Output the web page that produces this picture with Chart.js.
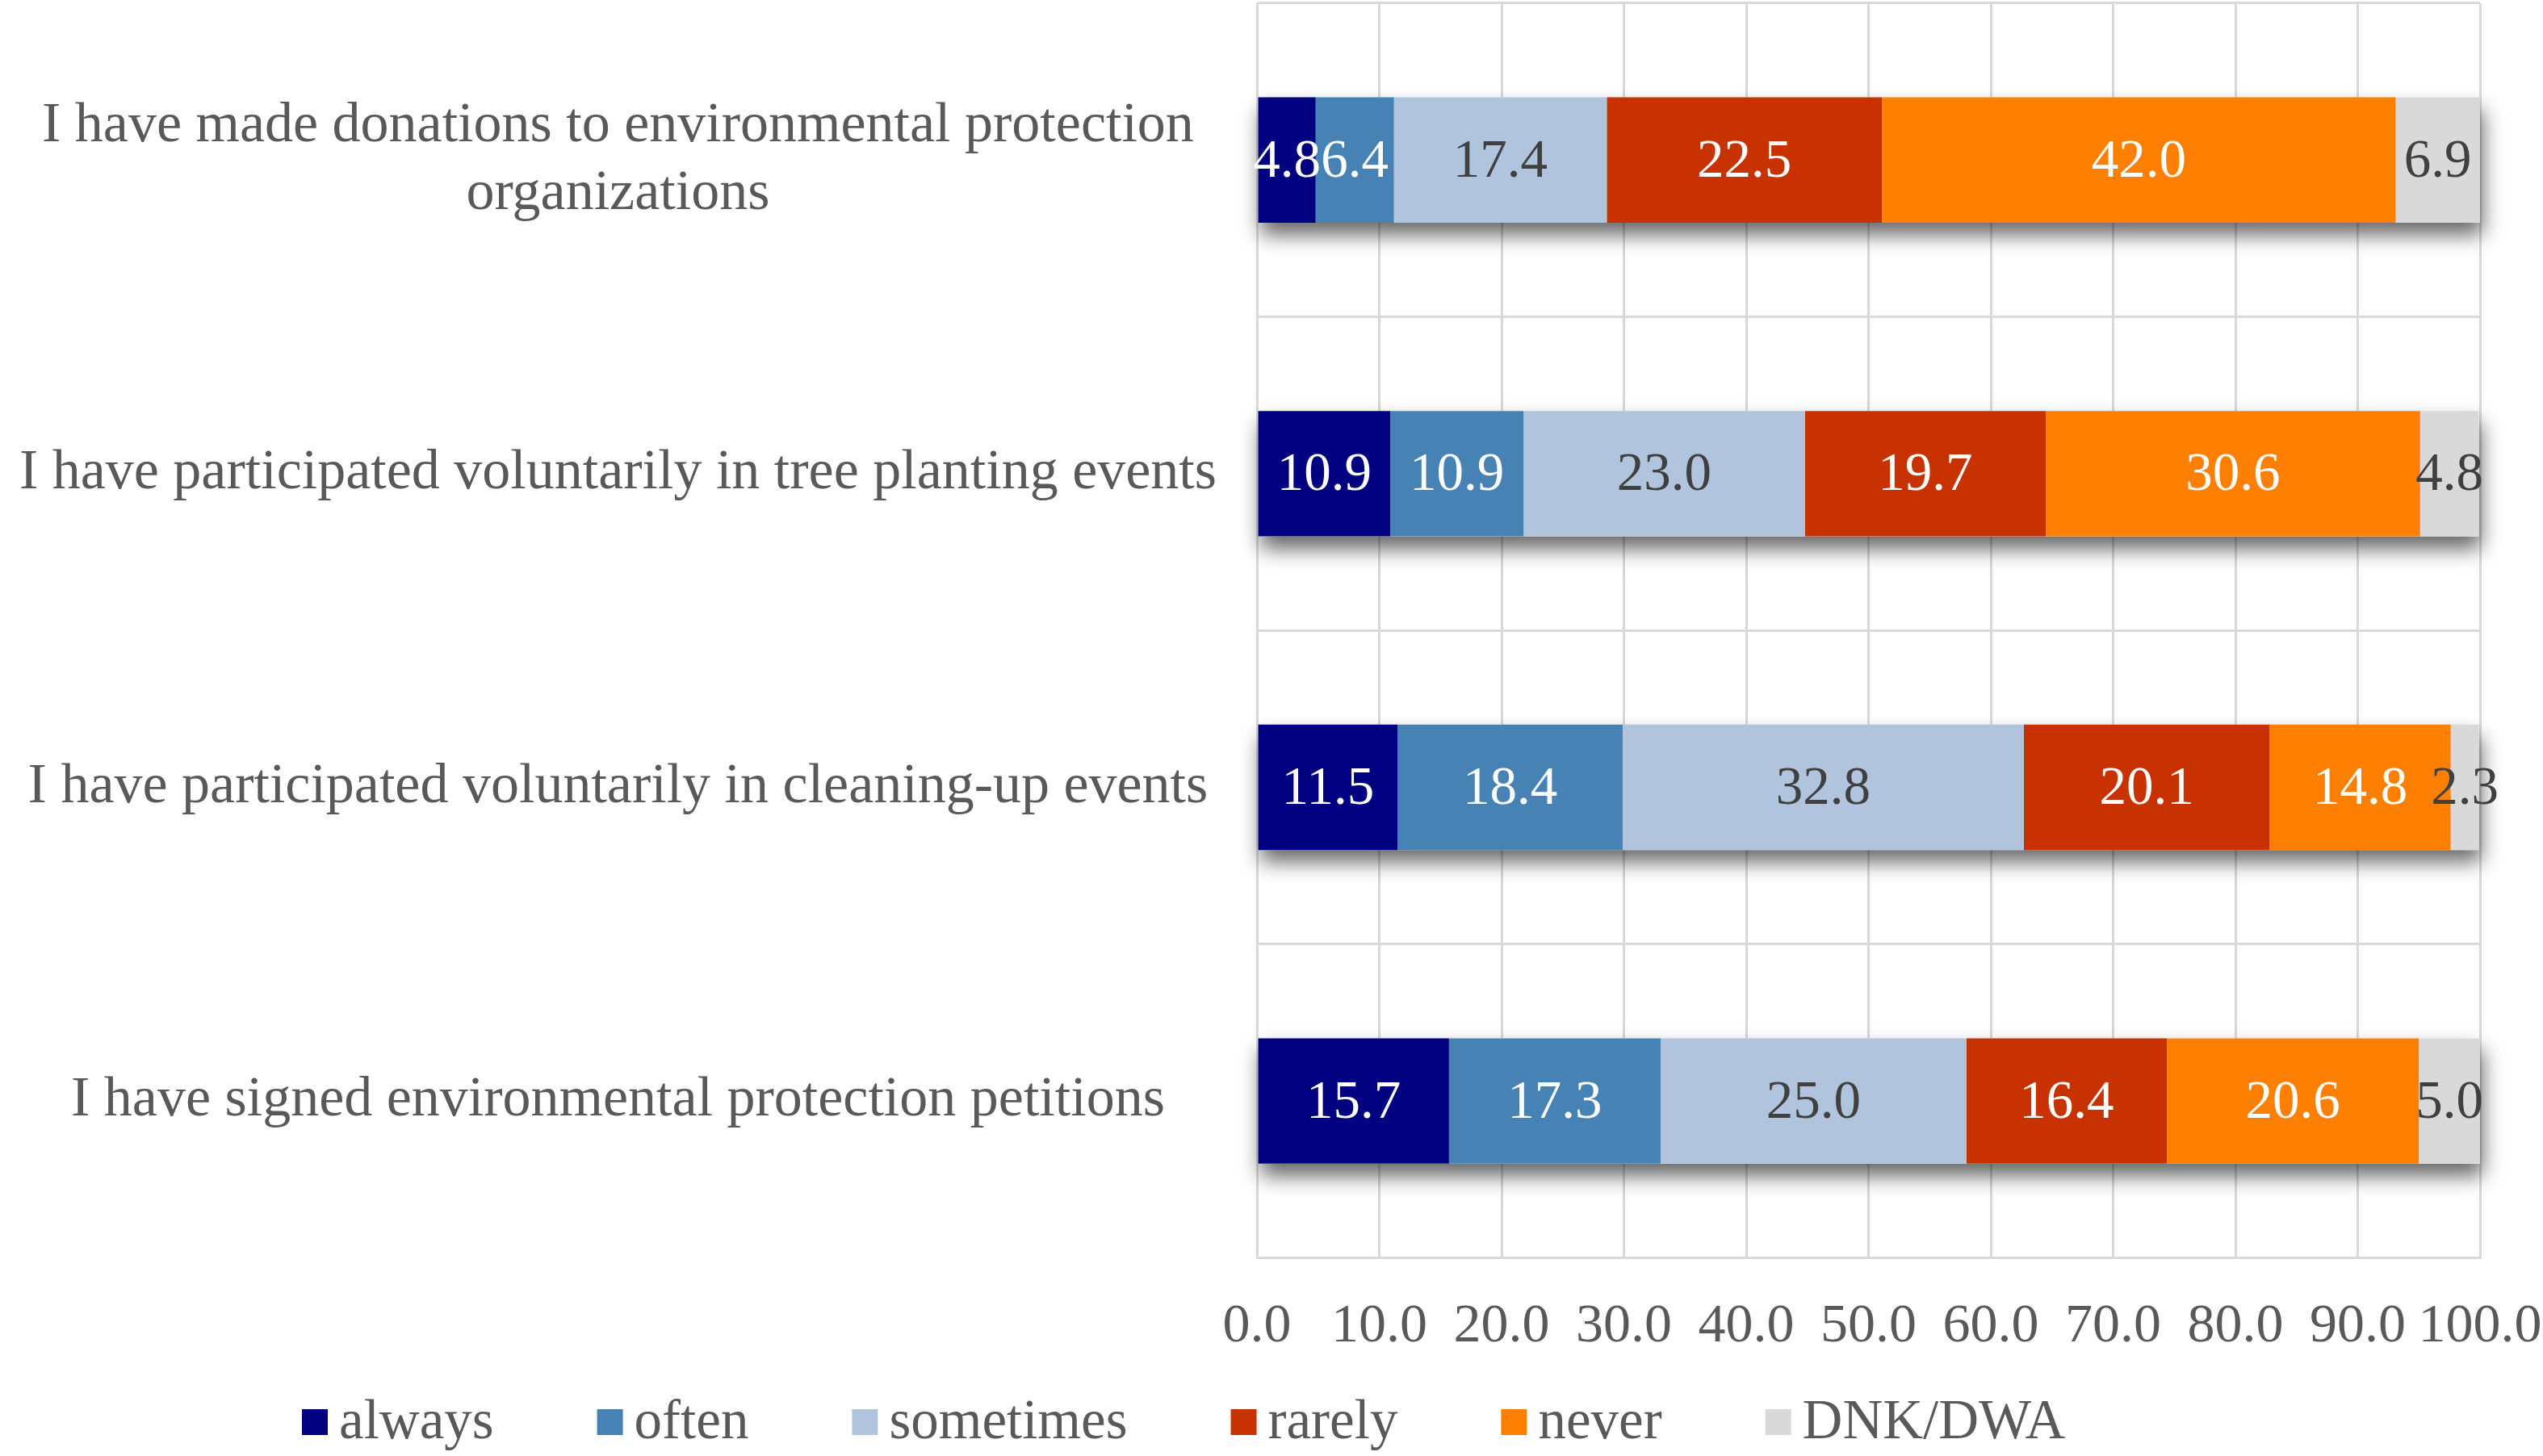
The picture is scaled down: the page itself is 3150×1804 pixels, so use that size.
<!DOCTYPE html>
<html><head><meta charset="utf-8">
<script src="https://cdn.jsdelivr.net/npm/chart.js@4/dist/chart.umd.min.js"></script>
<style>html,body{margin:0;padding:0;background:#fff}#wrap{width:3150px;height:1804px;position:relative}</style>
</head><body><div id="wrap"><canvas id="c" width="3150" height="1804"></canvas></div>
<script>
const categories = [
  ["I have made donations to environmental protection", "organizations"],
  "I have participated voluntarily in tree planting events",
  "I have participated voluntarily in cleaning-up events",
  "I have signed environmental protection petitions"
];
const seriesNames = ["always", "often", "sometimes", "rarely", "never", "DNK/DWA"];
const always    = [4.8, 10.9, 11.5, 15.7];
const often     = [6.4, 10.9, 18.4, 17.3];
const sometimes = [17.4, 23.0, 32.8, 25.0];
const rarely    = [22.5, 19.7, 20.1, 16.4];
const never     = [42.0, 30.6, 14.8, 20.6];
const dnk       = [6.9, 4.8, 2.3, 5.0];
const xTickValues = [0, 10, 20, 30, 40, 50, 60, 70, 80, 90, 100];

const seriesValues = [always, often, sometimes, rarely, never, dnk];
const seriesColors = ["#000080", "#4682B4", "#B0C4DE", "#C83200", "#FF8000", "#D9D9D9"];
const labelColors  = ["#FFFFFF", "#FFFFFF", "#404040", "#FFFFFF", "#FFFFFF", "#404040"];
const FONT = "'Liberation Serif', 'Times New Roman', serif";
const TEXT = "#595959";

const shadowPlugin = {
  id: 'barShadow',
  beforeDatasetsDraw(chart) {
    const ctx = chart.ctx;
    const first = chart.getDatasetMeta(0);
    const last = chart.getDatasetMeta(chart.data.datasets.length - 1);
    ctx.save();
    ctx.shadowColor = 'rgba(0,0,0,0.6)';
    ctx.shadowBlur = 24;
    ctx.shadowOffsetX = 3;
    ctx.shadowOffsetY = 15;
    ctx.fillStyle = '#ffffff';
    first.data.forEach((el, i) => {
      const a = el.getProps(['x', 'y', 'base', 'height'], true);
      const b = last.data[i].getProps(['x', 'y', 'base', 'height'], true);
      const left = Math.min(a.base, a.x);
      const right = Math.max(b.x, b.base);
      ctx.fillRect(left, a.y - a.height / 2, right - left, a.height);
    });
    ctx.restore();
  }
};

const valueLabelPlugin = {
  id: 'valueLabels',
  afterDatasetsDraw(chart) {
    const ctx = chart.ctx;
    ctx.save();
    ctx.font = "67px " + FONT;
    ctx.textAlign = 'center';
    ctx.textBaseline = 'middle';
    chart.data.datasets.forEach((ds, di) => {
      const meta = chart.getDatasetMeta(di);
      ctx.fillStyle = labelColors[di];
      meta.data.forEach((el, i) => {
        const p = el.getProps(['x', 'y', 'base'], true);
        ctx.fillText(ds.data[i].toFixed(1), (p.x + p.base) / 2, p.y + 3);
      });
    });
    ctx.restore();
  }
};

const legendPlugin = {
  id: 'customLegend',
  afterDraw(chart) {
    const ctx = chart.ctx;
    ctx.save();
    ctx.font = "69px " + FONT;
    ctx.textBaseline = 'middle';
    ctx.textAlign = 'left';
    let x = 374;
    const yc = 1762;
    const box = 32, gap = 14, pad = 128;
    chart.data.datasets.forEach((ds, di) => {
      ctx.fillStyle = ds.backgroundColor;
      ctx.fillRect(x, yc - box / 2, box, box);
      ctx.fillStyle = TEXT;
      ctx.fillText(ds.label, x + box + gap, yc + 2);
      x += box + gap + ctx.measureText(ds.label).width + pad;
    });
    ctx.restore();
  }
};

const datasets = seriesNames.map((name, i) => ({
  label: name,
  data: seriesValues[i],
  backgroundColor: seriesColors[i],
  borderWidth: 0,
  barPercentage: 0.8,
  categoryPercentage: 0.5
}));

new Chart(document.getElementById('c'), {
  type: 'bar',
  data: { labels: categories, datasets },
  plugins: [shadowPlugin, valueLabelPlugin, legendPlugin],
  options: {
    indexAxis: 'y',
    responsive: false,
    animation: false,
    devicePixelRatio: 1,
    layout: { padding: { top: 4, right: 78, bottom: 74, left: 0 } },
    plugins: { legend: { display: false }, tooltip: { enabled: false } },
    scales: {
      x: {
        stacked: true,
        min: 0, max: 100,
        afterBuildTicks(scale) { scale.ticks = xTickValues.map(v => ({ value: v })); },
        afterFit(scale) { scale.paddingLeft = 0; scale.paddingRight = 0; },
        ticks: {
          font: { family: FONT, size: 68 },
          color: TEXT,
          padding: 45,
          maxRotation: 0,
          autoSkip: false,
          callback: v => Number(v).toFixed(1)
        },
        grid: { color: '#D9D9D9', lineWidth: 3, drawTicks: false },
        border: { color: '#D9D9D9', width: 3 }
      },
      y: {
        stacked: true,
        afterFit(scale) { scale.width = 1557; scale.paddingTop = 0; scale.paddingBottom = 0; },
        ticks: {
          font: { family: FONT, size: 70 },
          color: TEXT,
          padding: 50,
          crossAlign: 'center',
          autoSkip: false
        },
        grid: { color: '#D9D9D9', lineWidth: 3, drawTicks: false },
        border: { color: '#D9D9D9', width: 3 }
      }
    }
  }
});
</script>
</body></html>
